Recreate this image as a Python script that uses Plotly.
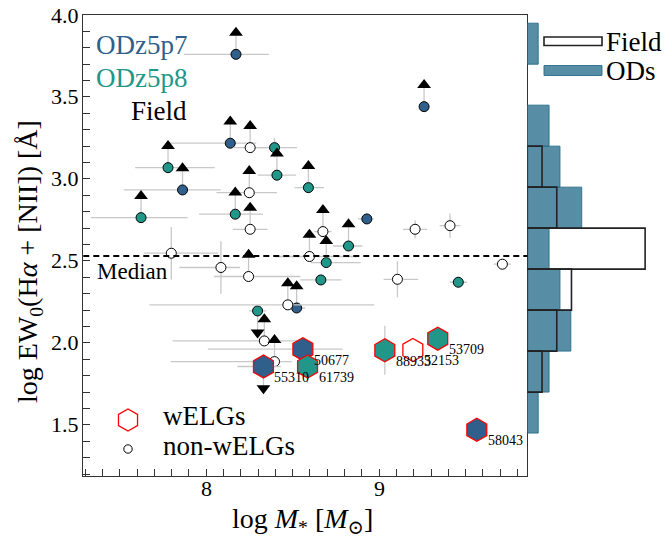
import plotly.graph_objects as go
import numpy as np

# ---------------- data ----------------
# ODz5p7 (blue) non-wELGs
od7_x = [8.172, 8.139, 7.863, 8.929, 8.523, 9.260]
od7_y = [3.760, 3.218, 2.933, 2.756, 2.213, 3.441]
od7_xlo = [0.30, 0.35, 0.34, 0.05, 0.05, 0.0]
od7_xhi = [0.19, 0.15, 0.22, 0.04, 0.05, 0.0]
od7_yerr = [0, 0, 0, 0, 0, 0]
od7_lim = [1, 1, 1, 0, 1, 1]          # 1: lower limit, -1: upper limit

# ODz5p8 (teal) non-wELGs
od8_x = [7.779, 7.623, 8.395, 8.409, 8.168, 8.591, 8.823, 8.694, 8.663, 8.297, 9.458]
od8_y = [3.069, 2.764, 3.191, 3.023, 2.785, 2.947, 2.591, 2.490, 2.384, 2.195, 2.370]
od8_xlo = [0.19, 0.29, 0.10, 0.11, 0.21, 0.08, 0.09, 0.09, 0.12, 0.05, 0.05]
od8_xhi = [0.27, 0.27, 0.13, 0.11, 0.16, 0.09, 0.08, 0.20, 0.12, 0.05, 0.05]
od8_yerr = [0, 0, 0.06, 0, 0, 0, 0, 0, 0, 0, 0.03]
od8_lim = [1, 1, 0, 1, 1, 1, 1, 1, 0, -1, 0]

# Field non-wELGs
fld_x = [8.254, 8.249, 8.254, 7.798, 8.085, 8.245, 8.675, 8.597, 8.472,
         9.208, 9.410, 9.713, 9.106, 8.336, 8.395]
fld_y = [3.191, 2.916, 2.693, 2.547, 2.460, 2.405, 2.679, 2.527, 2.232,
         2.693, 2.715, 2.480, 2.388, 2.012, 1.886]
fld_xlo = [0.10, 0.19, 0.10, 0.16, 0.24, 0.20, 0.05, 0.20, 0.80, 0.07, 0.06, 0.05, 0.08, 0.53, 0.60]
fld_xhi = [0.10, 0.16, 0.10, 0.27, 0.11, 0.30, 0.05, 0.28, 0.50, 0.07, 0.06, 0.05, 0.12, 0.20, 0.10]
fld_yerr = [0, 0, 0, 0.16, 0.16, 0, 0, 0, 0, 0.055, 0.075, 0.02, 0.11, 0, 0]
fld_lim = [1, 1, 1, 0, 0, 1, 1, 1, 1, 0, 0, 0, 0, 1, 1]

# wELGs
welg_id = ["55310", "50677", "61739", "88933", "52153", "53709", "58043"]
welg_grp = ["ODz5p7", "ODz5p7", "ODz5p8", "ODz5p8", "Field", "ODz5p8", "ODz5p7"]
welg_x = [8.331, 8.559, 8.586, 9.033, 9.195, 9.339, 9.565]
welg_y = [1.856, 1.962, 1.856, 1.955, 1.957, 2.026, 1.470]
welg_xlo = [0.15, 0.55, 0.05, 0.0, 0.0, 0.0, 0.0]
welg_xhi = [0.10, 0.23, 0.05, 0.0, 0.0, 0.0, 0.0]
welg_yerr = [0, 0, 0.10, 0.15, 0, 0, 0]
welg_lim = [-1, 0, 0, 0, 0, 0, 0]

median_ew = 2.53

# histogram (counts per bin, low -> high)
hist_edges = [1.45, 1.70, 1.95, 2.20, 2.45, 2.70, 2.95, 3.20, 3.45, 3.70, 3.95]
hist_od = [1, 2, 4, 3, 2, 5, 3, 2, 0, 1]
hist_field = [0, 1, 2, 3, 8, 2, 1, 0, 0, 0]

# tick labels
x_ticks = [8, 9]
x_ticklabels = ["8", "9"]
y_ticks = [1.5, 2.0, 2.5, 3.0, 3.5, 4.0]
y_ticklabels = ["1.5", "2.0", "2.5", "3.0", "3.5", "4.0"]

# ---------------- styles ----------------
W, H = 665, 538
FONT = "Liberation Serif, Times New Roman, DejaVu Serif, serif"
C7 = "#2f5f8a"
C8 = "#21978a"
ERRC = "#c8c8c8"
ODHIST = "rgba(40,110,140,0.78)"
ARR = 0.132  # arrow length (data units)


def px(x):
    return x / W


def py(y):
    return 1 - y / H


X0, X1, Y0, Y1 = 83.3, 527.3, 15, 475.7

fig = go.Figure()


def add_group(x, y, xlo, xhi, yerr, lim, fill, symbol="circle", size=10,
              line_color="black", line_w=1.0):
    x = np.array(x); y = np.array(y); lim = np.array(lim)
    sx, sy = [], []
    for xi, yi, li in zip(x, y, lim):
        if li != 0:
            sx += [xi, xi, None]
            sy += [yi, yi + li * ARR, None]
    if sx:
        fig.add_trace(go.Scatter(x=sx, y=sy, mode="lines",
                                 line=dict(color=ERRC, width=1.3),
                                 hoverinfo="skip", showlegend=False))
    fig.add_trace(go.Scatter(
        x=x, y=y, mode="markers",
        error_x=dict(type="data", symmetric=False, array=xhi, arrayminus=xlo,
                     color=ERRC, thickness=1.3, width=0),
        error_y=dict(type="data", array=yerr, color=ERRC, thickness=1.3, width=0),
        marker=dict(symbol=symbol, size=size, color=fill,
                    line=dict(color=line_color, width=line_w)),
        showlegend=False))
    return x, y, lim


tri = []
for g in [(od7_x, od7_y, od7_xlo, od7_xhi, od7_yerr, od7_lim, C7),
          (od8_x, od8_y, od8_xlo, od8_xhi, od8_yerr, od8_lim, C8),
          (fld_x, fld_y, fld_xlo, fld_xhi, fld_yerr, fld_lim, "white")]:
    tri.append(add_group(*g))

# wELG error bars & arrows (drawn under the hexagons)
wx = np.array(welg_x); wy = np.array(welg_y); wl = np.array(welg_lim)
sx, sy = [], []
for xi, yi, li in zip(wx, wy, wl):
    if li != 0:
        sx += [xi, xi, None]; sy += [yi, yi + li * ARR, None]
fig.add_trace(go.Scatter(x=sx, y=sy, mode="lines", line=dict(color=ERRC, width=1.3),
                         hoverinfo="skip", showlegend=False))
fig.add_trace(go.Scatter(
    x=wx, y=wy, mode="markers",
    error_x=dict(type="data", symmetric=False, array=welg_xhi, arrayminus=welg_xlo,
                 color=ERRC, thickness=1.3, width=0),
    error_y=dict(type="data", array=welg_yerr, color=ERRC, thickness=1.3, width=0),
    marker=dict(size=1, color="rgba(0,0,0,0)"), showlegend=False, hoverinfo="skip"))
tri.append((wx, wy, wl))

# triangles for limits
for x, y, lim in tri:
    up = lim > 0
    dn = lim < 0
    if up.any():
        fig.add_trace(go.Scatter(x=x[up], y=y[up] + ARR, mode="markers",
                                 marker=dict(symbol="triangle-up", size=12, color="black"),
                                 showlegend=False, hoverinfo="skip"))
    if dn.any():
        fig.add_trace(go.Scatter(x=x[dn], y=y[dn] - ARR, mode="markers",
                                 marker=dict(symbol="triangle-down", size=12, color="black"),
                                 showlegend=False, hoverinfo="skip"))

# hexagons
fillmap = {"ODz5p7": C7, "ODz5p8": C8, "Field": "white"}
fig.add_trace(go.Scatter(
    x=wx, y=wy, mode="markers",
    marker=dict(symbol="hexagon", size=23, color=[fillmap[g] for g in welg_grp],
                line=dict(color="red", width=1.3)),
    showlegend=False))
for xi, yi, t in zip(welg_x, welg_y, welg_id):
    fig.add_annotation(x=xi, y=yi, text=t, showarrow=False, xanchor="left",
                       yanchor="middle", xshift=9, yshift=-11,
                       font=dict(family=FONT, size=14, color="black"))

# ---------------- histogram panel ----------------
edges = np.array(hist_edges)
centers = (edges[:-1] + edges[1:]) / 2
bw = np.diff(edges)
od_c = np.array(hist_od); fd_c = np.array(hist_field)
od_d = od_c / (od_c.sum() * bw)
fd_d = fd_c / (fd_c.sum() * bw)
mf = fd_c > 0
mo = od_c > 0
fig.add_trace(go.Bar(y=centers[mf], x=fd_d[mf], orientation="h", width=bw[mf],
                     marker=dict(color="white", line=dict(width=0)),
                     xaxis="x2", yaxis="y2", showlegend=False))
fig.add_trace(go.Bar(y=centers[mo], x=od_d[mo], orientation="h", width=bw[mo],
                     marker=dict(color=ODHIST, line=dict(color="rgba(40,110,140,0.9)", width=1)),
                     xaxis="x2", yaxis="y2", showlegend=False))
fig.add_trace(go.Bar(y=centers[mf], x=fd_d[mf], orientation="h", width=bw[mf],
                     marker=dict(color="rgba(0,0,0,0)", line=dict(color="#222", width=1.6)),
                     xaxis="x2", yaxis="y2", showlegend=False))

# median line
fig.add_shape(type="line", xref="x domain", yref="y", x0=0, x1=1, y0=median_ew, y1=median_ew,
              line=dict(color="black", width=2, dash="6px,4px"))

# ---------------- text labels ----------------
def txt(x, y, s, size, color="black", xanchor="left", angle=0):
    fig.add_annotation(xref="paper", yref="paper", x=px(x), y=py(y), text=s,
                       showarrow=False, xanchor=xanchor, yanchor="middle",
                       textangle=angle, font=dict(family=FONT, size=size, color=color))

# tick labels as annotations (tied to the axes' data coordinates)
for v, s in zip(x_ticks, x_ticklabels):
    fig.add_annotation(xref="x", yref="paper", x=v, y=py(488), text=s, showarrow=False,
                       xanchor="center", yanchor="middle",
                       font=dict(family=FONT, size=22, color="black"))
for v, s in zip(y_ticks, y_ticklabels):
    fig.add_annotation(xref="paper", yref="y", x=px(81), y=v, text=s, showarrow=False,
                       xanchor="right", yanchor="middle",
                       font=dict(family=FONT, size=22, color="black"))

txt(189, 45, "ODz5p7", 27, C7, "right")
txt(189, 78, "ODz5p8", 27, C8, "right")
txt(189, 111, "Field", 27, "black", "right")
txt(95, 271, "Median", 23)

# legend (wELGs / non-wELGs)
hx, hy = px(128), py(420)
r = 11; rt = r * np.sqrt(3) / 2
hexpath = "M {a},{b} L {a},{c} L 0,{d} L {e},{c} L {e},{b} L 0,{f} Z".format(
    a=rt, b=-r / 2, c=r / 2, d=r, e=-rt, f=-r)
fig.add_shape(type="path", xref="paper", yref="paper", xsizemode="pixel", ysizemode="pixel",
              xanchor=hx, yanchor=hy, path=hexpath, line=dict(color="red", width=1.3),
              fillcolor="white")
fig.add_shape(type="circle", xref="paper", yref="paper", xsizemode="pixel", ysizemode="pixel",
              xanchor=px(128), yanchor=py(449), x0=-4.2, x1=4.2, y0=-4.2, y1=4.2,
              line=dict(color="black", width=1), fillcolor="white")
txt(161, 416, "wELGs", 27)
txt(161, 446, "non-wELGs", 27)

# histogram legend
fig.add_shape(type="rect", xref="paper", yref="paper", x0=px(544), x1=px(602), y0=py(45.5), y1=py(37),
              line=dict(color="#222", width=1.6), fillcolor="white")
fig.add_shape(type="rect", xref="paper", yref="paper", x0=px(544), x1=px(602), y0=py(75.5), y1=py(65.5),
              line=dict(color="rgba(40,110,140,0.9)", width=1), fillcolor=ODHIST)
txt(604, 42, "Field", 27)
txt(604, 71, "ODs", 27)

# axis titles
txt(302, 520, "log <i>M</i><sub>*</sub> [<i>M</i><sub>⊙</sub>]", 28, xanchor="center")
txt(29, 262, "log EW<sub>0</sub>(H<i>α</i> + [NII]) [Å]", 28, xanchor="center", angle=-90)

# ---------------- layout ----------------
axis_common = dict(showline=True, linecolor="#333", linewidth=1.2, mirror=True,
                   ticks="inside", ticklen=7, tickwidth=1, tickcolor="#333",
                   showgrid=False, zeroline=False, showticklabels=False)
fig.update_layout(
    width=W, height=H, margin=dict(l=0, r=0, t=0, b=0),
    paper_bgcolor="white", plot_bgcolor="white", barmode="overlay",
    showlegend=False, font=dict(family=FONT),
    xaxis=dict(domain=[px(X0), px(X1)], range=[7.289, 9.857],
               tickvals=x_ticks,
               minor=dict(ticks="inside", ticklen=7, dtick=0.1, tick0=0, tickcolor="#333"),
               **axis_common),
    yaxis=dict(domain=[py(Y1), py(Y0)], range=[1.19, 4.0],
               tickvals=y_ticks,
               minor=dict(ticks="inside", ticklen=7, dtick=0.1, tick0=0, tickcolor="#333"),
               **axis_common),
    xaxis2=dict(domain=[px(X1), 1.0], range=[0, 2.2], visible=False, anchor="y2"),
    yaxis2=dict(domain=[py(Y1), py(Y0)], range=[1.19, 4.0], visible=False, anchor="x2"),
)

fig.write_html("out.html")
